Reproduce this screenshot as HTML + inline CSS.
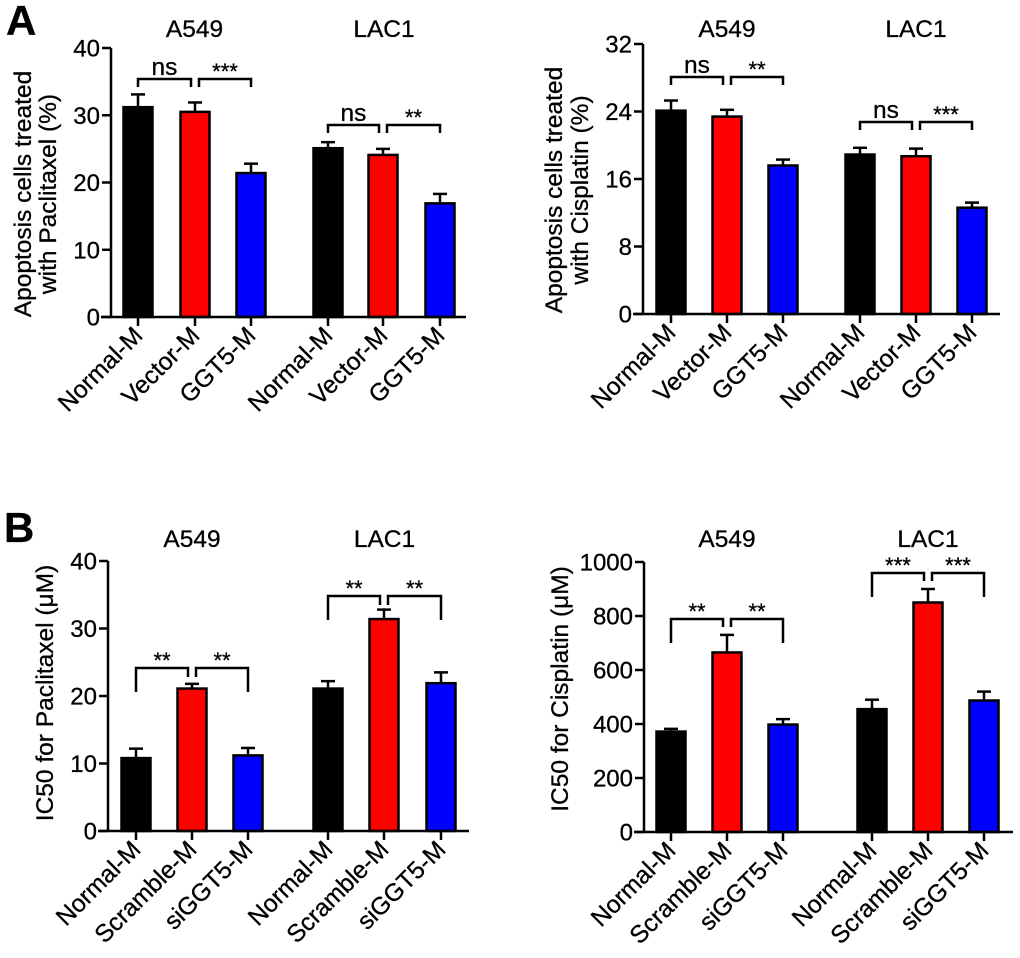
<!DOCTYPE html>
<html><head><meta charset="utf-8">
<style>
html,body{margin:0;padding:0;background:#fff;}
svg{display:block;font-family:"Liberation Sans",Arial,sans-serif;}
svg text{stroke:#000;stroke-width:0.3px;}
</style></head>
<body>
<svg id="fig" width="1020" height="958" viewBox="0 0 1020 958" xmlns="http://www.w3.org/2000/svg">
<text x="6" y="35" font-size="42" font-weight="bold">A</text>
<text x="4" y="542" font-size="42" font-weight="bold">B</text>
</svg>
<script>
// ---- data ----
const groupsA = ["Normal-M","Vector-M","GGT5-M","Normal-M","Vector-M","GGT5-M"];
const groupsB = ["Normal-M","Scramble-M","siGGT5-M","Normal-M","Scramble-M","siGGT5-M"];
const cellLines = ["A549","LAC1"];
const paclitaxelApoptosis = [31.2,30.5,21.4,25.1,24.1,16.9];
const paclitaxelApoptosisErr = [1.9,1.4,1.4,0.9,0.9,1.4];
const cisplatinApoptosis = [24.1,23.4,17.6,18.9,18.7,12.6];
const cisplatinApoptosisErr = [1.2,0.8,0.7,0.8,0.9,0.6];
const paclitaxelIC50 = [10.8,21.1,11.2,21.1,31.4,21.9];
const paclitaxelIC50Err = [1.4,0.7,1.1,1.1,1.4,1.6];
const cisplatinIC50 = [372,665,398,455,850,487];
const cisplatinIC50Err = [10,65,20,35,50,33];
const ticksA1 = [0,10,20,30,40];
const ticksA2 = [0,8,16,24,32];
const ticksB1 = [0,10,20,30,40];
const ticksB2 = [0,200,400,600,800,1000];
const sigA1 = ["ns","***","ns","**"];
const sigA2 = ["ns","**","ns","***"];
const sigB1 = ["**","**","**","**"];
const sigB2 = ["**","**","***","***"];
const colors = ["#000000","#ff0000","#0000ff"];

const NS="http://www.w3.org/2000/svg";
const svg=document.getElementById('fig');
function mk(tag,attrs,parent){const e=document.createElementNS(NS,tag);for(const k in attrs)e.setAttribute(k,attrs[k]);(parent||svg).appendChild(e);return e;}

const panels=[
 {id:"a1",ax:111,y0:317,yTop:48,xEnd:466,max:40,ticks:ticksA1,cx:[138,195,251,328,383,440],vals:paclitaxelApoptosis,err:paclitaxelApoptosisErr,cats:groupsA,sig:sigA1,
  brY:[79,79,125,125],outerDrop:8,innerDrop:8,titleLines:["Apoptosis cells treated","with Paclitaxel (%)"],titleX:[22,47],titleY:194,groupY:37},
 {id:"a2",ax:643,y0:314,yTop:44,xEnd:1000,max:32,ticks:ticksA2,cx:[671,727,783,860,916,972],vals:cisplatinApoptosis,err:cisplatinApoptosisErr,cats:groupsA,sig:sigA2,
  brY:[77,77,122,122],outerDrop:8,innerDrop:8,titleLines:["Apoptosis cells treated","with Cisplatin (%)"],titleX:[553,579],titleY:190,groupY:37},
 {id:"b1",ax:108,y0:831,yTop:561,xEnd:469,max:40,ticks:ticksB1,cx:[136,192,248,328,384,441],vals:paclitaxelIC50,err:paclitaxelIC50Err,cats:groupsB,sig:sigB1,
  brY:[668,668,596,596],outerDrop:24,innerDrop:9,titleLines:["IC50 for Paclitaxel (\u03bcM)"],titleX:[44],titleY:693,groupY:547},
 {id:"b2",ax:644,y0:832,yTop:562,xEnd:1013,max:1000,ticks:ticksB2,cx:[671,727,783,872,928,984],vals:cisplatinIC50,err:cisplatinIC50Err,cats:groupsB,sig:sigB2,
  brY:[619,619,573,573],outerDrop:24,innerDrop:8,titleLines:["IC50 for Cisplatin (\u03bcM)"],titleX:[559],titleY:689,groupY:547}
];

panels.forEach(p=>{
 const g=mk('g',{});
 
 
 const y=v=>p.y0-(v/p.max)*(p.y0-p.yTop);
 const bw=29;
 p.vals.forEach((v,i)=>{
  const top=y(v), et=y(v+p.err[i]);
  const ln=mk('line',{x1:p.cx[i],x2:p.cx[i],y1:top,y2:et,stroke:'#000','stroke-width':2.5},g);
  
  
  const cap=mk('line',{x1:p.cx[i]-7,x2:p.cx[i]+7,y1:et,y2:et,stroke:'#000','stroke-width':2.5},g);
  
  
  const r=mk('rect',{x:p.cx[i]-bw/2,y:top,width:bw,height:p.y0-top,fill:colors[i%3],stroke:'#000','stroke-width':2.5},g);
  
  
 });
 const ya=mk('line',{x1:p.ax,x2:p.ax,y1:p.yTop,y2:p.y0,stroke:'#000','stroke-width':2.5},g);
 
 
 const xa=mk('line',{x1:p.ax-10,x2:p.xEnd,y1:p.y0,y2:p.y0,stroke:'#000','stroke-width':2.5},g);
 
 
 p.ticks.forEach(t=>{
  const ty=y(t);
  mk('line',{x1:p.ax-9,x2:p.ax,y1:ty,y2:ty,stroke:'#000','stroke-width':2.5},g);
  const tl=mk('text',{x:p.ax-11,y:ty+8.5,'font-size':24,'text-anchor':'end'},g);
  tl.textContent=t;
  
  
 });
 p.cats.forEach((c,i)=>{
  mk('line',{x1:p.cx[i],x2:p.cx[i],y1:p.y0,y2:p.y0+9,stroke:'#000','stroke-width':2.5},g);
  const lx=p.cx[i]+6, ly=p.y0+20;
  const tl=mk('text',{x:lx,y:ly,'font-size':24.5,'text-anchor':'end',transform:`rotate(-45 ${lx} ${ly})`},g);
  tl.textContent=c;
  
  
 });
 cellLines.forEach((c,k)=>{
  const gx=(p.cx[k*3]+p.cx[k*3+2])/2;
  const t=mk('text',{x:gx,y:p.groupY,'font-size':24.5,'text-anchor':'middle'},g);
  t.textContent=c;
  
  
 });
 p.titleLines.forEach((s,k)=>{
  const tx=p.titleX[k]+9, ty=p.titleY;
  const t=mk('text',{x:tx,y:ty,'font-size':24.5,'text-anchor':'middle',transform:`rotate(-90 ${tx} ${ty})`},g);
  t.textContent=s;
  
  
 });
 [[0,1],[1,2],[3,4],[4,5]].forEach((pr,k)=>{
  const by=p.brY[k];
  const x1=p.cx[pr[0]]+(pr[0]%3===1?4:0), x2=p.cx[pr[1]]-(pr[1]%3===1?4:0);
  const d1=pr[0]%3===0?p.outerDrop:p.innerDrop, d2=pr[1]%3===2?p.outerDrop:p.innerDrop;
  const b=mk('path',{d:`M${x1} ${by+d1} V${by} H${x2} V${by+d2}`,fill:'none',stroke:'#000','stroke-width':2.5},g);
  
  
  const s=p.sig[k];
  const t=mk('text',{x:(x1+x2)/2,y:s==='ns'?by-4:by,'font-size':s==='ns'?24.5:22,'text-anchor':'middle'},g);
  t.textContent=s;
  
  
 });
});
</script>
</body></html>
